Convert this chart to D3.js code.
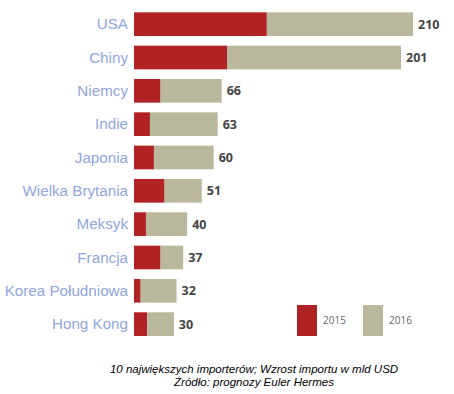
<!DOCTYPE html>
<html>
<head>
<meta charset="utf-8">
<script src="https://cdnjs.cloudflare.com/ajax/libs/d3/7.8.5/d3.min.js"></script>
<style>
    html, body { margin: 0; padding: 0; background: #fff; }
    svg { display: block; }
</style>
</head>
<body>
<div id="chart"></div>
<script>
(function (d3) {
    "use strict";

    var countries = ["USA", "Chiny", "Niemcy", "Indie", "Japonia", "Wielka Brytania",
                     "Meksyk", "Francja", "Korea Południowa", "Hong Kong"];
    // growth of imports, bn USD
    var imports2015 = [100, 70, 20, 12, 15, 23, 9, 20, 5, 10];
    var totals = [210, 201, 66, 63, 60, 51, 40, 37, 32, 30];
    var years = ["2015", "2016"];
    var colors = ["#b02224", "#b9b89c"];

    var width = 454, height = 394;

    var svg = d3.select("#chart").append("svg")
        .attr("width", width)
        .attr("height", height);

    var x = d3.scaleLinear().domain([0, 210]).range([134, 413]);
    var y = d3.scaleBand().domain(countries).range([7.5, 340.8])
        .paddingInner(0.29).paddingOuter(0.145);

    var rows = svg.selectAll("g.row")
        .data(countries)
        .enter().append("g")
        .attr("class", "row");

    // 2015 part
    rows.append("rect")
        .attr("x", x(0))
        .attr("y", function (d) { return y(d); })
        .attr("width", function (d, i) { return x(imports2015[i]) - x(0); })
        .attr("height", y.bandwidth())
        .attr("fill", colors[0]);

    // 2016 part
    rows.append("rect")
        .attr("x", function (d, i) { return x(imports2015[i]); })
        .attr("y", function (d) { return y(d); })
        .attr("width", function (d, i) { return x(totals[i]) - x(imports2015[i]); })
        .attr("height", y.bandwidth())
        .attr("fill", colors[1]);

    rows.append("text")
        .attr("x", x(0) - 6)
        .attr("y", function (d) { return y(d) + y.bandwidth() / 2; })
        .attr("dy", "0.35em")
        .attr("text-anchor", "end")
        .style("font-family", "'Liberation Sans', Arial, sans-serif")
        .style("font-size", "15.2px")
        .attr("fill", "#8fa6e0")
        .text(function (d) { return d; });

    rows.append("text")
        .attr("x", function (d, i) { return x(totals[i]) + 5; })
        .attr("y", function (d) { return y(d) + y.bandwidth() / 2; })
        .attr("dy", "0.35em")
        .style("font-family", "'Open Sans', sans-serif")
        .style("font-size", "12.5px")
        .style("font-weight", "bold")
        .attr("fill", "#444")
        .text(function (d, i) { return totals[i]; });

    // legend
    var legend = svg.selectAll("g.legend")
        .data(years)
        .enter().append("g")
        .attr("class", "legend")
        .attr("transform", function (d, i) { return "translate(" + (297 + i * 66) + ",305)"; });

    legend.append("rect")
        .attr("width", 20)
        .attr("height", 31)
        .attr("fill", function (d, i) { return colors[i]; });

    legend.append("text")
        .attr("x", 26)
        .attr("y", 19)
        .style("font-family", "'Open Sans', sans-serif")
        .style("font-size", "10px")
        .attr("fill", "#666")
        .text(function (d) { return d; });

    // caption
    var caption = ["10 największych importerów; Wzrost importu w mld USD",
                   "Źródło: prognozy Euler Hermes"];
    svg.selectAll("text.caption")
        .data(caption)
        .enter().append("text")
        .attr("class", "caption")
        .attr("x", 254)
        .attr("y", function (d, i) { return 373 + i * 12.5; })
        .attr("text-anchor", "middle")
        .style("font-family", "'Liberation Sans', Arial, sans-serif")
        .style("font-size", "11.5px")
        .style("font-style", "italic")
        .attr("fill", "#000")
        .text(function (d) { return d; });

}(window.d3));
</script>
</body>
</html>
